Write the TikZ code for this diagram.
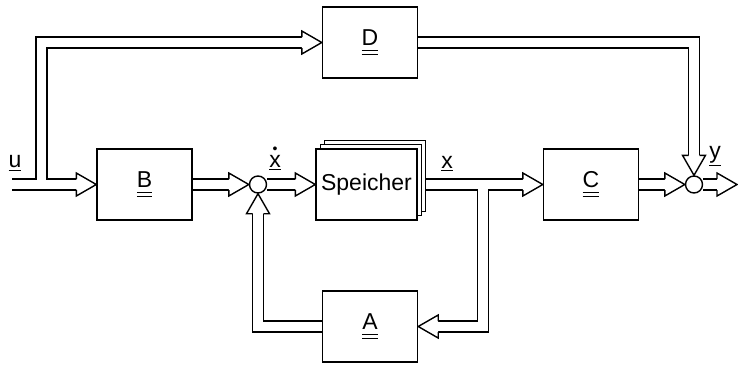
\documentclass[tikz,border=0pt]{standalone}
\usepackage{fontspec}
\setmainfont{Liberation Sans}
\usetikzlibrary{calc, shadows, backgrounds}

\newcommand{\vekt}[1]{\underline{#1}}
\newcommand{\matr}[1]{\setbox0\hbox{#1}\leavevmode
  \rlap{\rule[-2.5pt]{\wd0}{0.55pt}}\rlap{\rule[-4.6pt]{\wd0}{0.55pt}}\box0}
\newcommand{\tdot}[1]{\leavevmode\vbox{\offinterlineskip
  \halign{\hfil##\hfil\cr\scriptsize\textbullet\cr\noalign{\kern0.6pt}#1\cr}}}

\tikzset{
  block/.style={draw, fill=white, line width=0.7pt, minimum width=47.5pt,
    minimum height=35.5pt, inner sep=0pt},
  summer/.style={draw, fill=white, circle, line width=0.7pt, minimum size=8.5pt, inner sep=0pt},
  bus/.style={double, double distance=4.8pt, line width=0.7pt, line join=miter},
  bushead/.pic={
    \filldraw[fill=white, line width=0.7pt, line join=miter]
      (-20,-5.5) -- (-20,-11.5) -- (0,0) -- (-20,11.5) -- (-20,5.5);
  }
}

\begin{document}
\begin{tikzpicture}[x=0.5pt, y=-0.5pt, font=\fontsize{11.5}{14}\selectfont]
  \useasboundingbox (0,0) rectangle (738,365);

  % blocks
  \node[block] (B) at (144.5,184.5) {\matr{B}};
  \node[block] (D) at (370,42.5) {\matr{D}};
  \node[block] (C) at (591,184.5) {\matr{C}};
  \node[block] (A) at (370,326.5) {\matr{A}};
  \node[block, minimum width=50.5pt,
    double copy shadow={shadow xshift=2.1pt, shadow yshift=2.2pt}] (S) at (366.5,184.5) {Speicher};

  % summing points
  \node[summer] (s1) at (258,184.5) {};
  \node[summer] (s2) at (694,184.5) {};

  \coordinate (uin) at (12,184.5);
  \coordinate (usplit) at (41.5,184.5);
  \coordinate (xsplit) at (483,184.5);
  \coordinate (yout) at (737,184.5);

  % signal labels
  \node[anchor=base] (lu) at (15,167) {\vekt{u}};
  \node[anchor=base] (lxd) at (275,167) {\vekt{\tdot{x}}};
  \node[anchor=base] (lx) at (447,168) {\vekt{x}};
  \node[anchor=base] (ly) at (715,158) {\vekt{y}};

  % vector connections
  \begin{scope}[on background layer]
    \draw[bus] (uin) -- ($(B.west)+(-19,0)$)
      (usplit) |- ($(D.west)+(-19,0)$)
      (B.east) -- ($(s1.west)+(-19,0)$)
      (s1.east) -- ($(S.west)+(-19,0)$)
      (S.east) -- ($(C.west)+(-19,0)$)
      (xsplit) |- ($(A.east)+(19,0)$)
      (A.west) -| ($(s1.south)+(0,19)$)
      (C.east) -- ($(s2.west)+(-19,0)$)
      (D.east) -| ($(s2.north)+(0,-19)$)
      (s2.east) -- ($(yout)+(-19,0)$);
    \pic at (B.west) {bushead};
    \pic at (D.west) {bushead};
    \pic at (s1.west) {bushead};
    \pic at (S.west) {bushead};
    \pic at (C.west) {bushead};
    \pic[rotate=180] at (A.east) {bushead};
    \pic[rotate=90] at (s1.south) {bushead};
    \pic at (s2.west) {bushead};
    \pic[rotate=-90] at (s2.north) {bushead};
    \pic at (yout) {bushead};
  \end{scope}
\end{tikzpicture}
\end{document}
